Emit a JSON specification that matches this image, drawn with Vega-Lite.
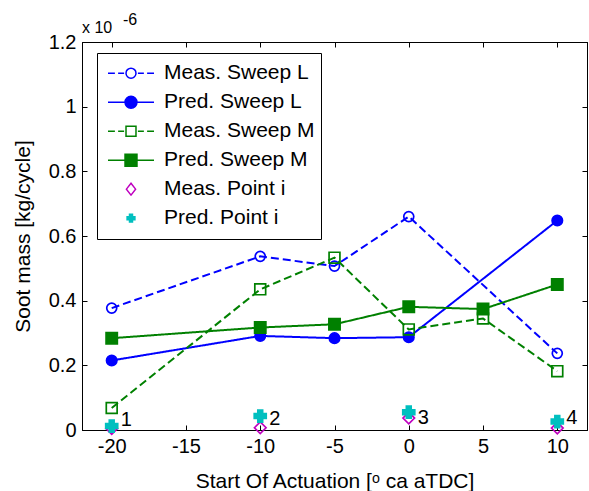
{
  "$schema": "https://vega.github.io/schema/vega-lite/v6.json",
  "width": 505,
  "height": 388,
  "autosize": {"type": "none"},
  "padding": {"left": 82, "top": 42, "right": 2, "bottom": 61},
  "background": "white",
  "config": {
    "font": "Liberation Sans",
    "view": {"stroke": "black", "strokeWidth": 1},
    "axis": {
      "grid": false, "domainColor": "black", "tickColor": "black",
      "labelColor": "black", "titleColor": "black",
      "labelFontSize": 20, "titleFontSize": 21, "titleFontWeight": "normal",
      "tickSize": -5, "domainWidth": 1, "tickWidth": 1
    },
    "legend": {
      "orient": "none", "legendX": 15, "legendY": 11,
      "title": null, "symbolSize": 2116, "clipHeight": 28.3, "rowPadding": 0,
      "labelFontSize": 21, "labelColor": "black", "labelOffset": 9, "symbolOffset": 4,
      "padding": 6, "strokeColor": "black", "fillColor": "white",
      "symbolStrokeWidth": 1.5, "symbolOpacity": 1, "labelLimit": 400
    }
  },
  "data": {
    "values": [
      {"SOA": -20, "soot": 0.377, "series": "Meas. Sweep L"},
      {"SOA": -10, "soot": 0.537, "series": "Meas. Sweep L"},
      {"SOA": -5, "soot": 0.507, "series": "Meas. Sweep L"},
      {"SOA": 0, "soot": 0.66, "series": "Meas. Sweep L"},
      {"SOA": 10, "soot": 0.237, "series": "Meas. Sweep L"},
      {"SOA": -20, "soot": 0.215, "series": "Pred. Sweep L"},
      {"SOA": -10, "soot": 0.291, "series": "Pred. Sweep L"},
      {"SOA": -5, "soot": 0.284, "series": "Pred. Sweep L"},
      {"SOA": 0, "soot": 0.287, "series": "Pred. Sweep L"},
      {"SOA": 10, "soot": 0.648, "series": "Pred. Sweep L"},
      {"SOA": -20, "soot": 0.068, "series": "Meas. Sweep M"},
      {"SOA": -10, "soot": 0.435, "series": "Meas. Sweep M"},
      {"SOA": -5, "soot": 0.533, "series": "Meas. Sweep M"},
      {"SOA": 0, "soot": 0.311, "series": "Meas. Sweep M"},
      {"SOA": 5, "soot": 0.345, "series": "Meas. Sweep M"},
      {"SOA": 10, "soot": 0.182, "series": "Meas. Sweep M"},
      {"SOA": -20, "soot": 0.284, "series": "Pred. Sweep M"},
      {"SOA": -10, "soot": 0.317, "series": "Pred. Sweep M"},
      {"SOA": -5, "soot": 0.327, "series": "Pred. Sweep M"},
      {"SOA": 0, "soot": 0.381, "series": "Pred. Sweep M"},
      {"SOA": 5, "soot": 0.374, "series": "Pred. Sweep M"},
      {"SOA": 10, "soot": 0.45, "series": "Pred. Sweep M"},
      {"SOA": -20, "soot": 0.005, "series": "Meas. Point i"},
      {"SOA": -10, "soot": 0.007, "series": "Meas. Point i"},
      {"SOA": 0, "soot": 0.037, "series": "Meas. Point i"},
      {"SOA": 10, "soot": 0.006, "series": "Meas. Point i"},
      {"SOA": -20, "soot": 0.012, "series": "Pred. Point i"},
      {"SOA": -10, "soot": 0.043, "series": "Pred. Point i"},
      {"SOA": 0, "soot": 0.055, "series": "Pred. Point i"},
      {"SOA": 10, "soot": 0.026, "series": "Pred. Point i"}
    ]
  },
  "layer": [
    {
      "transform": [{"filter": "indexof(datum.series, 'Sweep') >= 0"}],
      "mark": {"type": "line", "strokeWidth": 2},
      "encoding": {
        "x": {"field": "SOA", "type": "quantitative",
          "scale": {"domain": [-22, 12], "nice": false, "zero": false},
          "axis": {"orient": "bottom", "values": [-20, -15, -10, -5, 0, 5, 10], "labelExpr": "datum.value + ''",
            "title": "Start Of Actuation [ᵒ ca aTDC]", "labelPadding": 11, "titlePadding": 14}},
        "y": {"field": "soot", "type": "quantitative",
          "scale": {"domain": [0, 1.2], "nice": false, "zero": false},
          "axis": {"orient": "left", "values": [0, 0.2, 0.4, 0.6, 0.8, 1, 1.2], "format": "~g",
            "title": "Soot mass [kg/cycle]", "labelPadding": 11, "titlePadding": 15}},
        "stroke": {"field": "series", "type": "nominal",
          "scale": {"domain": ["Meas. Sweep L", "Pred. Sweep L", "Meas. Sweep M", "Pred. Sweep M"],
            "range": ["#0000FF", "#0000FF", "#008000", "#008000"]}, "legend": null},
        "strokeDash": {"field": "series", "type": "nominal",
          "scale": {"domain": ["Meas. Sweep L", "Pred. Sweep L", "Meas. Sweep M", "Pred. Sweep M"],
            "range": [[8, 4], [1, 0], [8, 4], [1, 0]]}, "legend": null}
      }
    },
    {
      "mark": {"type": "point", "strokeWidth": 1.7, "opacity": 1},
      "encoding": {
        "x": {"field": "SOA", "type": "quantitative", "axis": null},
        "y": {"field": "soot", "type": "quantitative", "axis": null},
        "stroke": {"field": "series", "type": "nominal",
          "scale": {"domain": ["Meas. Sweep L", "Pred. Sweep L", "Meas. Sweep M", "Pred. Sweep M", "Meas. Point i", "Pred. Point i"],
            "range": ["#0000FF", "#0000FF", "#008000", "#008000", "#BF00BF", "#00BFBF"]}, "legend": null},
        "fill": {"field": "series", "type": "nominal",
          "scale": {"domain": ["Meas. Sweep L", "Pred. Sweep L", "Meas. Sweep M", "Pred. Sweep M", "Meas. Point i", "Pred. Point i"],
            "range": ["transparent", "#0000FF", "transparent", "#008000", "transparent", "#00BFBF"]}, "legend": null},
        "shape": {"field": "series", "type": "nominal",
          "scale": {"domain": ["Meas. Sweep L", "Pred. Sweep L", "Meas. Sweep M", "Pred. Sweep M", "Meas. Point i", "Pred. Point i"],
            "range": ["circle", "circle", "square", "square", "diamond", "cross"]}, "legend": null},
        "size": {"field": "series", "type": "nominal",
          "scale": {"domain": ["Meas. Sweep L", "Pred. Sweep L", "Meas. Sweep M", "Pred. Sweep M", "Meas. Point i", "Pred. Point i"],
            "range": [100, 144, 100, 144, 100, 64]}, "legend": null}
      }
    },
    {
      "mark": {"type": "point", "size": 0, "strokeWidth": 1.5, "opacity": 1},
      "encoding": {
        "x": {"field": "SOA", "type": "quantitative",
          "axis": {"orient": "top", "values": [-20, -15, -10, -5, 0, 5, 10], "labels": false, "title": null}},
        "y": {"field": "soot", "type": "quantitative",
          "axis": {"orient": "right", "values": [0, 0.2, 0.4, 0.6, 0.8, 1, 1.2], "labels": false, "title": null}},
        "stroke": {"field": "series", "type": "nominal",
          "scale": {"domain": ["Meas. Sweep L", "Pred. Sweep L", "Meas. Sweep M", "Pred. Sweep M", "Meas. Point i", "Pred. Point i"],
            "range": ["#0000FF", "#0000FF", "#008000", "#008000", "#BF00BF", "#00BFBF"]}},
        "fill": {"field": "series", "type": "nominal",
          "scale": {"domain": ["Meas. Sweep L", "Pred. Sweep L", "Meas. Sweep M", "Pred. Sweep M", "Meas. Point i", "Pred. Point i"],
            "range": ["transparent", "#0000FF", "transparent", "#008000", "transparent", "#00BFBF"]}},
        "shape": {"field": "series", "type": "nominal",
          "scale": {"domain": ["Meas. Sweep L", "Pred. Sweep L", "Meas. Sweep M", "Pred. Sweep M", "Meas. Point i", "Pred. Point i"],
            "range": [
              "M-1,0H-0.7M-0.56,0H-0.3M0.3,0H0.56M0.7,0H1M-0.217,0A0.217,0.217 0 1,0 0.217,0A0.217,0.217 0 1,0 -0.217,0",
              "M-1,0H1M-0.26,0A0.26,0.26 0 1,0 0.26,0A0.26,0.26 0 1,0 -0.26,0",
              "M-1,0H-0.7M-0.56,0H-0.3M0.3,0H0.56M0.7,0H1M-0.217,-0.217H0.217V0.217H-0.217Z",
              "M-1,0H1M-0.26,-0.26H0.26V0.26H-0.26Z",
              "M0,-0.26L0.2,0L0,0.26L-0.2,0Z",
              "M-0.065,-0.17H0.065V-0.065H0.17V0.065H0.065V0.17H-0.065V0.065H-0.17V-0.065H-0.065Z"
            ]}}
      }
    },
    {
      "data": {"values": [
        {"SOA": -20, "soot": 0.031, "label": "1"},
        {"SOA": -10, "soot": 0.034, "label": "2"},
        {"SOA": 0, "soot": 0.037, "label": "3"},
        {"SOA": 10, "soot": 0.037, "label": "4"}
      ]},
      "mark": {"type": "text", "align": "left", "baseline": "middle", "dx": 9, "fontSize": 20, "color": "black"},
      "encoding": {
        "x": {"field": "SOA", "type": "quantitative", "axis": null},
        "y": {"field": "soot", "type": "quantitative", "axis": null},
        "text": {"field": "label"}
      }
    },
    {
      "data": {"values": [{"note": "x 10"}]},
      "mark": {"type": "text", "align": "left", "baseline": "alphabetic", "dy": -9, "fontSize": 16, "color": "black"},
      "encoding": {
        "x": {"datum": -22, "type": "quantitative", "axis": null},
        "y": {"datum": 1.2, "type": "quantitative", "axis": null},
        "text": {"field": "note"}
      }
    },
    {
      "data": {"values": [{"note": "-6"}]},
      "mark": {"type": "text", "align": "left", "baseline": "alphabetic", "dx": 41, "dy": -17, "fontSize": 16, "color": "black"},
      "encoding": {
        "x": {"datum": -22, "type": "quantitative", "axis": null},
        "y": {"datum": 1.2, "type": "quantitative", "axis": null},
        "text": {"field": "note"}
      }
    }
  ],
  "resolve": {
    "scale": {"stroke": "independent", "fill": "independent", "shape": "independent", "size": "independent", "strokeDash": "independent"},
    "axis": {"x": "independent", "y": "independent"}
  }
}
